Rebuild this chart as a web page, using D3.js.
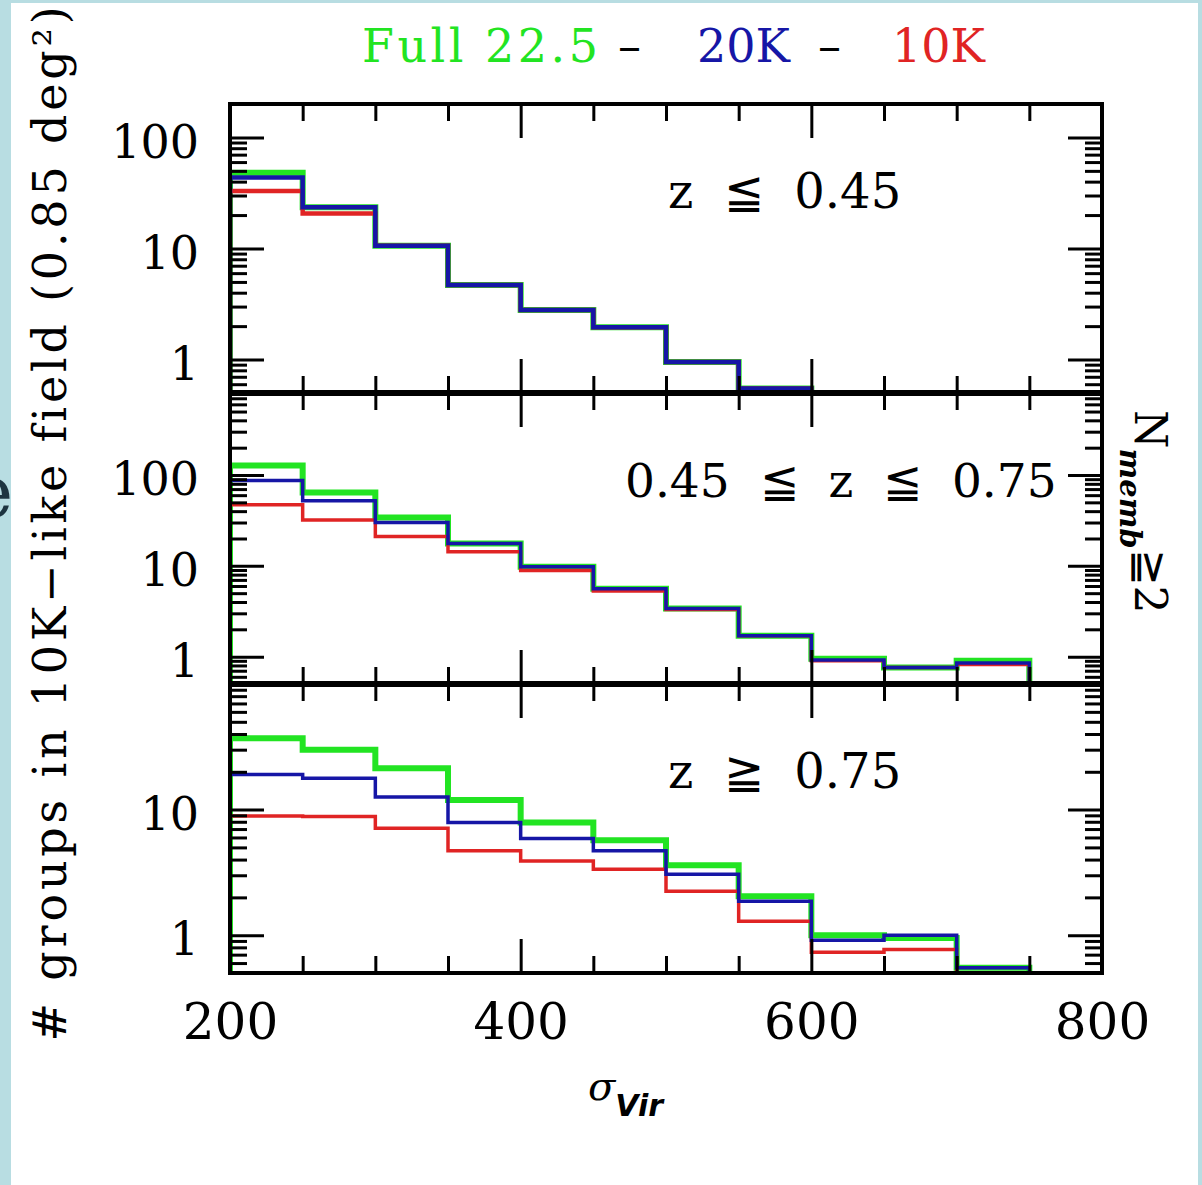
<!DOCTYPE html>
<html>
<head>
<meta charset="utf-8">
<script src="https://cdn.jsdelivr.net/npm/d3@7"></script>
<style>
  html, body { margin: 0; padding: 0; background: #b8dde2; }
  svg { display: block; }
  text { font-family: "DejaVu Serif", serif; white-space: pre; }
</style>
</head>
<body>
<svg id="chart" width="1202" height="1185"></svg>
<script>
// lower edge of each sigma_vir bin, bins are 50 wide
const binStarts = [200, 250, 300, 350, 400, 450, 500, 550, 600, 650, 700, 750];
const binWidth = 50;

// z <= 0.45
const full1 = [48, 23.5, 10.6, 4.7, 2.8, 1.95, 0.95, 0.55];
const k20_1 = [43.5, 23.5, 10.6, 4.7, 2.8, 1.95, 0.95, 0.55];
const k10_1 = [33, 20.7, 10.6, 4.7, 2.8, 1.95, 0.95, 0.55];

// 0.45 <= z <= 0.75
const full2 = [127, 64, 34, 17.6, 9.8, 5.6, 3.4, 1.7, 0.95, 0.76, 0.9];
const k20_2 = [87, 52, 30, 17.6, 9.8, 5.6, 3.4, 1.7, 0.92, 0.76, 0.85];
const k10_2 = [47, 32, 21, 14.3, 8.9, 5.3, 3.3, 1.7, 0.9, 0.76, 0.82];

// z >= 0.75
const full3 = [37, 30, 21.3, 11.9, 7.9, 5.7, 3.6, 2.04, 1.0, 0.95, 0.55];
const k20_3 = [19, 17.8, 12.6, 7.9, 5.9, 4.7, 3.06, 1.86, 0.91, 1.0, 0.55];
const k10_3 = [8.9, 8.8, 7.1, 4.7, 3.9, 3.35, 2.24, 1.29, 0.73, 0.77];

const panelLabels = ["z  \u2266  0.45", "0.45  \u2266  z  \u2266  0.75", "z  \u2267  0.75"];
const yDomains = [[0.5, 200], [0.5, 800], [0.5, 100]];
const yLabelled = [[1, 10, 100], [1, 10, 100], [1, 10]];
const xMajor = [200, 400, 600, 800];
const xMinor = [250, 300, 350, 450, 500, 550, 650, 700, 750];

const panels = [
    { label: panelLabels[0], domain: yDomains[0], labels: yLabelled[0], series: [full1, k10_1, k20_1], thin: 4.5 },
    { label: panelLabels[1], domain: yDomains[1], labels: yLabelled[1], series: [full2, k10_2, k20_2], thin: 3.5 },
    { label: panelLabels[2], domain: yDomains[2], labels: yLabelled[2], series: [full3, k10_3, k20_3], thin: 3.5 }
];
// drawing order: full (green, thick), 10K (red), 20K (blue)
const colors = ["#22e422", "#e02424", "#1616a6"];

const W = 1202, H = 1185;
const plotLeft = 230, plotRight = 1102;
const panelEdges = [104, 393, 684, 973];

const svg = d3.select("#chart");

// page background, with the cut-off letter from the slide behind
svg.append("rect").attr("width", W).attr("height", H).attr("fill", "#b8dde2");
svg.append("text")
    .attr("x", 13).attr("y", 517)
    .attr("text-anchor", "end")
    .attr("font-family", "DejaVu Sans")
    .attr("font-size", 72)
    .attr("fill", "#1d3440")
    .text("e");
svg.append("rect").attr("x", 11).attr("y", 3).attr("width", 1187).attr("height", H - 3).attr("fill", "#fff");

const x = d3.scaleLinear().domain([200, 800]).range([plotLeft, plotRight]);

function styleTicks(g) {
    g.select(".domain").remove();
    g.selectAll("line").attr("stroke", "#000").attr("stroke-width", 3);
}

panels.forEach((p, i) => {
    const top = panelEdges[i], bottom = panelEdges[i + 1];
    const y = d3.scaleLog().domain(p.domain).range([bottom, top]).clamp(true);
    const g = svg.append("g");

    const clipId = "clip" + i;
    g.append("clipPath").attr("id", clipId)
        .append("rect")
        .attr("x", plotLeft).attr("y", top)
        .attr("width", plotRight - plotLeft).attr("height", bottom - top);

    const line = d3.line()
        .x(d => x(d[0]))
        .y(d => y(d[1]))
        .curve(d3.curveStepAfter);

    p.series.forEach((vals, k) => {
        const pts = [[binStarts[0], p.domain[0]]];
        vals.forEach((v, j) => pts.push([binStarts[j], v]));
        const end = binStarts[vals.length - 1] + binWidth;
        pts.push([end, vals[vals.length - 1]]);
        pts.push([end, p.domain[0]]);
        g.append("path")
            .attr("clip-path", `url(#${clipId})`)
            .attr("d", line(pts))
            .attr("fill", "none")
            .attr("stroke", colors[k])
            .attr("stroke-width", k === 0 ? 6 : p.thin)
            .attr("stroke-linejoin", "miter");
    });

    // log ticks: decades long, the rest short
    const yAll = y.ticks();
    const yMajor = yAll.filter(v => Math.abs(Math.log10(v) - Math.round(Math.log10(v))) < 1e-9);
    const yMinor = yAll.filter(v => !yMajor.includes(v));

    g.append("g").attr("transform", `translate(${plotLeft},0)`)
        .call(d3.axisLeft(y).tickValues(yMinor).tickSize(-17).tickFormat(""))
        .call(styleTicks);
    g.append("g").attr("transform", `translate(${plotLeft},0)`)
        .call(d3.axisLeft(y).tickValues(yMajor).tickSize(-34).tickPadding(31)
            .tickFormat(v => p.labels.includes(v) ? d3.format("d")(v) : ""))
        .call(styleTicks)
        .call(a => a.selectAll("text")
            .attr("font-family", "DejaVu Serif")
            .attr("font-size", 46)
            .attr("fill", "#000")
            .attr("dy", "0.43em"));
    g.append("g").attr("transform", `translate(${plotRight},0)`)
        .call(d3.axisRight(y).tickValues(yMinor).tickSize(-17).tickFormat(""))
        .call(styleTicks);
    g.append("g").attr("transform", `translate(${plotRight},0)`)
        .call(d3.axisRight(y).tickValues(yMajor).tickSize(-34).tickFormat(""))
        .call(styleTicks);

    g.append("g").attr("transform", `translate(0,${top})`)
        .call(d3.axisTop(x).tickValues(xMinor).tickSize(-17).tickFormat(""))
        .call(styleTicks);
    g.append("g").attr("transform", `translate(0,${top})`)
        .call(d3.axisTop(x).tickValues(xMajor).tickSize(-34).tickFormat(""))
        .call(styleTicks);
    g.append("g").attr("transform", `translate(0,${bottom})`)
        .call(d3.axisBottom(x).tickValues(xMinor).tickSize(-17).tickFormat(""))
        .call(styleTicks);
    const xb = g.append("g").attr("transform", `translate(0,${bottom})`)
        .call(d3.axisBottom(x).tickValues(xMajor).tickSize(-34).tickPadding(30)
            .tickFormat(i === panels.length - 1 ? d3.format("d") : ""))
        .call(styleTicks);
    xb.selectAll("text")
        .attr("font-family", "DejaVu Serif")
        .attr("font-size", 50)
        .attr("fill", "#000");

    g.append("rect")
        .attr("x", plotLeft).attr("y", top)
        .attr("width", plotRight - plotLeft).attr("height", bottom - top)
        .attr("fill", "none").attr("stroke", "#000").attr("stroke-width", 4);

    g.append("text")
        .attr("x", i === 1 ? 625 : 668)
        .attr("y", top + 104)
        .attr("font-size", i === 1 ? 47 : 48)
        .attr("fill", "#000")
        .text(p.label);
});

// thicker lines where panels meet
svg.selectAll("line.divider")
    .data(panelEdges.slice(1, -1))
    .join("line")
    .attr("class", "divider")
    .attr("x1", plotLeft).attr("x2", plotRight)
    .attr("y1", d => d).attr("y2", d => d)
    .attr("stroke", "#000").attr("stroke-width", 6);

// title
const title = svg.append("text").attr("y", 62).attr("font-size", 46);
title.append("tspan").attr("x", 362).attr("fill", "#22e422").attr("letter-spacing", 3.5).text("Full 22.5");
title.append("tspan").attr("x", 618).attr("fill", "#000").text("\u2013");
title.append("tspan").attr("x", 697).attr("fill", "#1616a6").text("20K");
title.append("tspan").attr("x", 818).attr("fill", "#000").text("\u2013");
title.append("tspan").attr("x", 892).attr("fill", "#e02424").text("10K");

// y label
svg.append("text")
    .attr("transform", "translate(66,522) rotate(-90)")
    .attr("text-anchor", "middle")
    .attr("font-size", 46)
    .attr("letter-spacing", 3.8)
    .attr("fill", "#000")
    .text("# groups in 10K\u2212like field (0.85 deg\u00b2)");

// right label
const rl = svg.append("text")
    .attr("transform", "translate(1135,410) rotate(90)")
    .attr("fill", "#000");
rl.append("tspan").attr("font-size", 44).text("N");
rl.append("tspan").attr("font-size", 29).attr("font-weight", "bold").attr("font-style", "italic")
    .attr("dy", 15).text("memb");
rl.append("tspan").attr("font-size", 44).attr("dy", -15).text("\u22672");

// x label
const xl = svg.append("text").attr("x", 588).attr("y", 1100).attr("fill", "#000");
xl.append("tspan").attr("font-size", 40).attr("font-style", "italic").text("\u03c3");
xl.append("tspan").attr("font-size", 30).attr("font-weight", "bold").attr("font-style", "italic")
    .attr("font-family", "DejaVu Sans").attr("dy", 16).text("Vir");
</script>
</body>
</html>
